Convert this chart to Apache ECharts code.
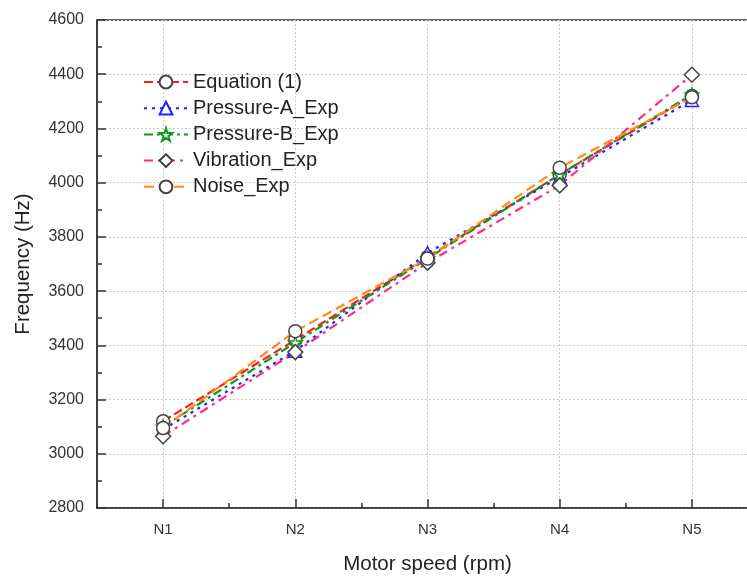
<!DOCTYPE html>
<html><head><meta charset="utf-8">
<script src="https://cdn.jsdelivr.net/npm/echarts@6/dist/echarts.min.js"></script>
<style>html,body{margin:0;padding:0;background:#fff}#c{width:747px;height:579px}</style>
</head><body><div id="c"></div>
<script>
const categories = ['N1', 'N2', 'N3', 'N4', 'N5'];
const equation = [3120, 3420, 3725, 4030, 4320];
const pressureA = [3090, 3380, 3740, 4020, 4305];
const pressureB = [3100, 3410, 3720, 4030, 4325];
const vibration = [3065, 3375, 3705, 3990, 4398];
const noise = [3095, 3452, 3720, 4055, 4315];
const yTicks = { min: 2800, max: 4600, interval: 200, minorInterval: 100 };

const FONT = 'Liberation Sans, Arial, sans-serif';
const star = 'path://M50,0 L61,35 L98,35 L68,57 L79,91 L50,70 L21,91 L32,57 L2,35 L39,35 Z';

function mk(name, data, color, dash, symbol, symSize, markerBorder) {
  return {
    name, type: 'line', data, xAxisIndex: 0, yAxisIndex: 0,
    symbol, symbolSize: symSize,
    lineStyle: { color, width: 2.2, type: dash },
    itemStyle: { color: '#fff', borderColor: markerBorder, borderWidth: 1.5 },
    emphasis: { disabled: true }
  };
}

const chart = echarts.init(document.getElementById('c'));
chart.setOption({
  animation: false,
  backgroundColor: '#fff',
  grid: { left: 97, top: 20, bottom: 71, width: 661, outerBoundsMode: 'none', containLabel: false,
          show: true, borderColor: '#333', borderWidth: 1.5, backgroundColor: 'transparent' },
  legend: {
    left: 138, top: 67, orient: 'vertical', itemGap: 6.2, itemWidth: 44, itemHeight: 16,
    textStyle: { fontFamily: FONT, fontSize: 20, color: '#222' },
    data: ['Equation (1)', 'Pressure-A_Exp', 'Pressure-B_Exp', 'Vibration_Exp', 'Noise_Exp']
  },
  xAxis: [{
    type: 'category', data: categories, boundaryGap: true,
    name: 'Motor speed (rpm)', nameLocation: 'middle', nameGap: 46,
    nameTextStyle: { fontFamily: FONT, fontSize: 20.5, color: '#222' },
    axisLine: { lineStyle: { color: '#333', width: 1.5 } },
    axisTick: { show: true, inside: true, alignWithLabel: true, length: 9, lineStyle: { color: '#333', width: 1.5 } },
    axisLabel: { fontFamily: FONT, fontSize: 15, color: '#333', margin: 14 },
    splitLine: { show: true, alignWithLabel: true, lineStyle: { color: '#ccc', type: [2, 2], width: 1 } }
  }, {
    type: 'category', data: categories, boundaryGap: true, position: 'bottom',
    axisLine: { show: false },
    axisTick: { show: true, inside: true, length: 5, lineStyle: { color: '#333', width: 1.5 } },
    axisLabel: { show: false }, splitLine: { show: false }
  }],
  yAxis: [{
    type: 'value', min: yTicks.min, max: yTicks.max, interval: yTicks.interval,
    name: 'Frequency (Hz)', nameLocation: 'middle', nameGap: 63,
    nameTextStyle: { fontFamily: FONT, fontSize: 20.5, color: '#222' },
    axisLine: { show: true, lineStyle: { color: '#333', width: 1.5 } },
    axisTick: { show: true, inside: true, length: 9, lineStyle: { color: '#333', width: 1.5 } },
    axisLabel: { fontFamily: FONT, fontSize: 16, color: '#333', margin: 13, formatter: v => String(v) },
    splitLine: { show: true, lineStyle: { color: '#ccc', type: [2, 2], width: 1 } }
  }, {
    type: 'value', min: yTicks.min, max: yTicks.max, interval: yTicks.minorInterval, position: 'left',
    axisLine: { show: false },
    axisTick: { show: true, inside: true, length: 5, lineStyle: { color: '#333', width: 1.5 } },
    axisLabel: { show: false }, splitLine: { show: false }
  }],
  series: [
    mk('Equation (1)', equation, '#ff1a1a', [9, 4], 'circle', 13, '#444'),
    mk('Pressure-A_Exp', pressureA, '#2222ff', [3, 5], 'triangle', 13, '#2222ff'),
    mk('Pressure-B_Exp', pressureB, '#119911', [9, 4, 3, 4], star, 13, '#119911'),
    mk('Vibration_Exp', vibration, '#ff2a8a', [9, 5, 3, 5], 'diamond', 15, '#444'),
    mk('Noise_Exp', noise, '#ff8c1a', [10, 5], 'circle', 13, '#444')
  ]
});
</script></body></html>
